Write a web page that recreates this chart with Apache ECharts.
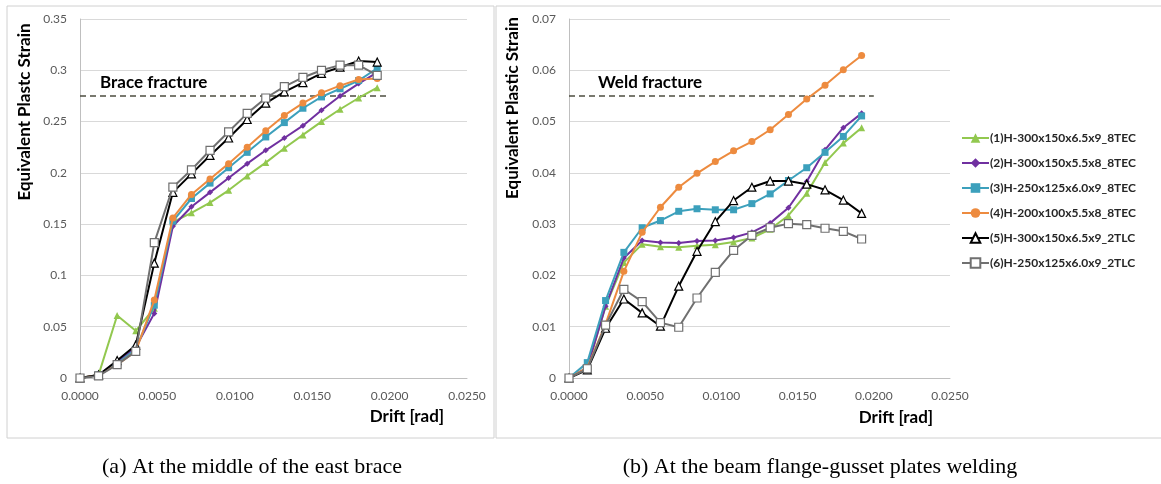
<!DOCTYPE html>
<html>
<head>
<meta charset="utf-8">
<script src="https://cdn.jsdelivr.net/npm/echarts@6/dist/echarts.min.js"></script>
<style>
  html, body { margin: 0; padding: 0; background: #fff; }
  #chart { width: 1161px; height: 484px; }
</style>
</head>
<body>
<div id="chart"></div>
<script>
  // drift steps [rad]
  var drift = [0, 0.0012, 0.0024, 0.0036, 0.0048, 0.006, 0.0072, 0.0084, 0.0096,
    0.0108, 0.012, 0.0132, 0.0144, 0.0156, 0.0168, 0.018, 0.0192]

  var names = [
    '(1)H-300x150x6.5x9_8TEC',
    '(2)H-300x150x5.5x8_8TEC',
    '(3)H-250x125x6.0x9_8TEC',
    '(4)H-200x100x5.5x8_8TEC',
    '(5)H-300x150x6.5x9_2TLC',
    '(6)H-250x125x6.0x9_2TLC'
  ]

  // (a) middle of the east brace
  var braceS1 = [0, 0.003, 0.061, 0.046, 0.068, 0.152, 0.161, 0.171, 0.183, 0.197, 0.210, 0.224, 0.237, 0.250, 0.262, 0.273, 0.283]
  var braceS2 = [0, 0.003, 0.015, 0.030, 0.063, 0.148, 0.167, 0.181, 0.195, 0.209, 0.222, 0.234, 0.246, 0.261, 0.275, 0.287, 0.298]
  var braceS3 = [0, 0.003, 0.014, 0.028, 0.071, 0.153, 0.175, 0.190, 0.205, 0.220, 0.235, 0.249, 0.263, 0.274, 0.282, 0.290, 0.302]
  var braceS4 = [0, 0.003, 0.013, 0.026, 0.076, 0.156, 0.179, 0.194, 0.209, 0.225, 0.241, 0.256, 0.268, 0.278, 0.285, 0.291, 0.292]
  var braceS5 = [0, 0.003, 0.017, 0.032, 0.112, 0.181, 0.199, 0.217, 0.234, 0.252, 0.268, 0.279, 0.288, 0.297, 0.303, 0.309, 0.308]
  var braceS6 = [0, 0.002, 0.013, 0.026, 0.132, 0.186, 0.203, 0.222, 0.240, 0.258, 0.273, 0.284, 0.293, 0.300, 0.305, 0.305, 0.295]

  // (b) beam flange-gusset plates welding
  var weldS1 = [0, 0.002, 0.014, 0.0225, 0.0261, 0.0256, 0.0255, 0.0258, 0.026, 0.0265, 0.0273, 0.029, 0.0317, 0.036, 0.042, 0.0458, 0.0488]
  var weldS2 = [0, 0.002, 0.014, 0.0234, 0.0268, 0.0264, 0.0263, 0.0267, 0.0268, 0.0274, 0.0284, 0.0302, 0.0332, 0.0383, 0.0445, 0.0488, 0.0516]
  var weldS3 = [0, 0.003, 0.0151, 0.0245, 0.0293, 0.0307, 0.0325, 0.033, 0.0328, 0.0328, 0.034, 0.0359, 0.0385, 0.041, 0.044, 0.0471, 0.0511]
  var weldS4 = [0, 0.002, 0.0105, 0.0208, 0.0284, 0.0333, 0.0372, 0.0399, 0.0422, 0.0443, 0.0461, 0.0484, 0.0514, 0.0544, 0.0571, 0.0601, 0.0629]
  var weldS5 = [0, 0.0016, 0.0097, 0.0154, 0.0127, 0.0101, 0.0179, 0.0247, 0.0305, 0.0346, 0.0372, 0.0384, 0.0384, 0.0378, 0.0367, 0.0347, 0.0321]
  var weldS6 = [0, 0.0018, 0.0103, 0.0173, 0.0149, 0.0108, 0.0099, 0.0156, 0.0206, 0.0249, 0.0278, 0.0293, 0.0301, 0.0299, 0.0292, 0.0286, 0.0271]

  var braceFracture = 0.275
  var weldFracture = 0.055
  var fractureEnd = 0.02

  var styles = [
    { color: '#92c84f', symbol: 'triangle', size: 7, open: false },
    { color: '#7030a0', symbol: 'diamond', size: 6, open: false },
    { color: '#3ca0bc', symbol: 'rect', size: 7, open: false },
    { color: '#ed8b3f', symbol: 'circle', size: 7, open: false },
    { color: '#000000', symbol: 'triangle', size: 8, open: true },
    { color: '#707070', symbol: 'rect', size: 8, open: true }
  ]

  var font = 'Lato, "Open Sans", sans-serif'
  var serif = '"Liberation Serif", serif'

  function pairs(vals) {
    return vals.map(function (v, i) { return [drift[i], v] })
  }

  function makeLines(sets, idx) {
    return sets.map(function (vals, i) {
      var s = styles[i]
      return {
        name: names[i],
        type: 'line',
        xAxisIndex: idx,
        yAxisIndex: idx,
        data: pairs(vals),
        symbol: s.symbol,
        symbolSize: s.size,
        z: 3 + i,
        lineStyle: { color: s.color, width: 2 },
        itemStyle: s.open
          ? { color: '#ffffff', borderColor: s.color, borderWidth: 1.2 }
          : { color: s.color },
        emphasis: { disabled: true }
      }
    })
  }

  function fractureLine(value, idx) {
    return {
      name: 'fracture' + idx,
      type: 'line',
      xAxisIndex: idx,
      yAxisIndex: idx,
      data: [[0, value], [fractureEnd, value]],
      symbol: 'none',
      silent: true,
      z: 2,
      lineStyle: { color: '#4d4d40', width: 1.6, type: [6, 4] }
    }
  }

  function xAxis(idx) {
    return {
      type: 'value',
      gridIndex: idx,
      min: 0,
      max: 0.025,
      interval: 0.005,
      axisLine: { show: true, lineStyle: { color: '#bfbfbf' } },
      axisTick: { show: false },
      splitLine: { show: false },
      axisLabel: {
        color: '#595959', fontFamily: font, fontSize: 12, margin: 12,
        formatter: function (v) { return v.toFixed(4) }
      }
    }
  }

  function yAxis(idx, max, step) {
    return {
      type: 'value',
      gridIndex: idx,
      min: 0,
      max: max,
      interval: step,
      axisLine: { show: true, lineStyle: { color: '#bfbfbf' } },
      axisTick: { show: false },
      splitLine: { lineStyle: { color: '#d9d9d9' } },
      axisLabel: {
        color: '#595959', fontFamily: font, fontSize: 12, margin: 13,
        formatter: function (v) { return String(+v.toFixed(3)) }
      }
    }
  }

  function boldText(str, x, y, size, align, rot) {
    return {
      type: 'text', x: x, y: y, rotation: rot || 0, silent: true,
      style: { text: str, fontFamily: font, fontSize: size, fontWeight: 'bold', fill: '#000', align: align, verticalAlign: 'middle' }
    }
  }

  var chart = echarts.init(document.getElementById('chart'))

  chart.setOption({
    animation: false,
    backgroundColor: '#ffffff',
    grid: [
      { left: 80, top: 19, width: 387, height: 359 },
      { left: 569, top: 19, width: 381, height: 359 }
    ],
    xAxis: [xAxis(0), xAxis(1)],
    yAxis: [yAxis(0, 0.35, 0.05), yAxis(1, 0.07, 0.01)],
    legend: {
      data: names,
      orient: 'vertical',
      left: 956,
      top: 127,
      itemWidth: 27,
      itemHeight: 12,
      itemGap: 13,
      textStyle: { fontFamily: font, fontSize: 12, fontWeight: 'bold', color: '#262626', padding: [0, 0, 0, -4] }
    },
    graphic: [
      { type: 'rect', shape: { x: 7, y: 6, width: 487, height: 432 }, style: { fill: 'none', stroke: '#d0d0d0', lineWidth: 1 }, silent: true },
      { type: 'rect', shape: { x: 496, y: 6, width: 680, height: 432 }, style: { fill: 'none', stroke: '#d0d0d0', lineWidth: 1 }, silent: true },
      boldText('Equivalent Plastc Strain', 25, 112, 17, 'center', Math.PI / 2),
      boldText('Equivalent Plastic Strain', 513, 108, 17, 'center', Math.PI / 2),
      boldText('Drift [rad]', 407, 417, 17, 'center'),
      boldText('Drift [rad]', 896, 418, 17, 'center'),
      boldText('Brace fracture', 100, 83, 17, 'left'),
      boldText('Weld fracture', 598, 83, 17, 'left'),
      { type: 'text', x: 252, y: 467, silent: true, style: { text: '(a) At the middle of the east brace', fontFamily: serif, fontSize: 22, fill: '#000', align: 'center', verticalAlign: 'middle' } },
      { type: 'text', x: 820, y: 467, silent: true, style: { text: '(b) At the beam flange-gusset plates welding', fontFamily: serif, fontSize: 22, fill: '#000', align: 'center', verticalAlign: 'middle' } }
    ],
    series: [fractureLine(braceFracture, 0), fractureLine(weldFracture, 1)]
      .concat(makeLines([braceS1, braceS2, braceS3, braceS4, braceS5, braceS6], 0))
      .concat(makeLines([weldS1, weldS2, weldS3, weldS4, weldS5, weldS6], 1))
  })
</script>
</body>
</html>
